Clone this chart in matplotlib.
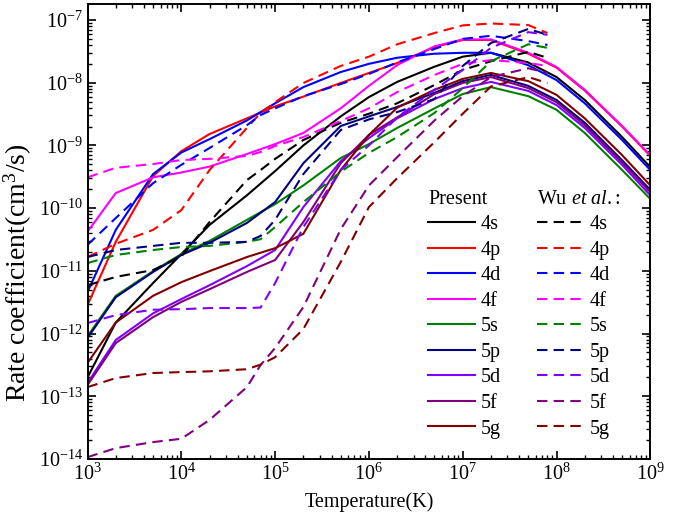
import numpy as np
import matplotlib
matplotlib.use('Agg')
import matplotlib.pyplot as plt
from matplotlib.ticker import LogLocator, NullFormatter

plt.rcParams['font.family'] = 'Liberation Serif'
plt.rcParams['mathtext.fontset'] = 'custom'
plt.rcParams['mathtext.rm'] = 'Liberation Serif'
plt.rcParams['mathtext.it'] = 'Liberation Serif:italic'
plt.rcParams['axes.unicode_minus'] = False

# temperatures (K)
T_present = [1e3, 2e3, 5e3, 1e4, 2e4, 5e4, 1e5, 2e5, 5e5, 1e6, 2e6, 5e6, 1e7, 2e7, 5e7, 1e8, 2e8, 5e8, 1e9]
T_wu = [1e3, 2e3, 5e3, 1e4, 2e4, 5e4, 7e4, 1e5, 2e5, 5e5, 1e6, 2e6, 5e6, 1e7, 2e7, 5e7, 8e7]

levels = ['4s', '4p', '4d', '4f', '5s', '5p', '5d', '5f', '5g']
colors = ['#000000', '#ff0000', '#0000ff', '#ff00ff', '#008000', '#000080', '#8000ff', '#800080', '#800000']

# present results (cm^3/s)
present_4s = [2.0e-13, 1.5e-12, 6.4e-12, 1.85e-11, 5.4e-11, 1.6e-10, 3.9e-10, 1.0e-9, 2.9e-9, 5.9e-9, 1.03e-8, 1.8e-8, 2.6e-8, 3.0e-8, 2.1e-8, 1.23e-8, 5.3e-9, 1.36e-9, 4.5e-10]
present_4p = [2.85e-12, 2.9e-11, 3.25e-10, 8.1e-10, 1.52e-9, 2.7e-9, 4.2e-9, 6.0e-9, 9.9e-9, 1.43e-8, 2.06e-8, 3.7e-8, 4.8e-8, 4.8e-8, 2.9e-8, 1.74e-8, 7.5e-9, 2.0e-9, 6.8e-10]
present_4d = [4.6e-12, 4.5e-11, 3.5e-10, 7.7e-10, 1.26e-9, 2.5e-9, 4.7e-9, 8.5e-9, 1.48e-8, 2.0e-8, 2.5e-8, 2.9e-8, 3.0e-8, 3.0e-8, 1.9e-8, 1.1e-8, 4.7e-9, 1.22e-9, 4.05e-10]
present_4f = [4.2e-11, 1.74e-10, 3.1e-10, 3.7e-10, 4.6e-10, 7.3e-10, 1.05e-9, 1.58e-9, 3.9e-9, 8.9e-9, 1.91e-8, 3.8e-8, 4.9e-8, 4.9e-8, 3.0e-8, 1.78e-8, 7.7e-9, 2.04e-9, 7.0e-10]
present_5s = [9.1e-13, 4.0e-12, 9.9e-12, 1.85e-11, 3.0e-11, 6.5e-11, 1.16e-10, 2.3e-10, 6.3e-10, 1.05e-9, 1.9e-9, 3.9e-9, 6.6e-9, 8.5e-9, 6.1e-9, 3.7e-9, 1.58e-9, 4.05e-10, 1.4e-10]
present_5p = [8.5e-13, 3.8e-12, 9.6e-12, 1.79e-11, 2.8e-11, 5.8e-11, 1.25e-10, 5.2e-10, 2.04e-9, 2.9e-9, 4.1e-9, 6.9e-9, 1.06e-8, 1.33e-8, 8.9e-9, 5.3e-9, 2.3e-9, 5.8e-10, 1.95e-10]
present_5d = [1.63e-13, 7.9e-13, 2.1e-12, 3.55e-12, 5.9e-12, 1.19e-11, 2.15e-11, 1.04e-10, 5.6e-10, 1.31e-9, 2.7e-9, 5.5e-9, 8.2e-9, 1.03e-8, 7.4e-9, 4.4e-9, 1.9e-9, 4.9e-10, 1.6e-10]
present_5f = [1.51e-13, 7.05e-13, 1.83e-12, 3.2e-12, 5.1e-12, 9.6e-12, 1.49e-11, 6.0e-11, 5.2e-10, 1.47e-9, 2.8e-9, 6.6e-9, 9.9e-9, 1.23e-8, 8.2e-9, 4.9e-9, 2.1e-9, 5.4e-10, 1.8e-10]
present_5g = [3.4e-13, 1.5e-12, 4.0e-12, 6.6e-12, 9.9e-12, 1.66e-11, 2.3e-11, 3.9e-11, 4.05e-10, 1.47e-9, 4.0e-9, 7.7e-9, 1.15e-8, 1.43e-8, 1.06e-8, 6.4e-9, 2.7e-9, 7.0e-10, 2.3e-10]

# Wu et al.
wu_4s = [5.9e-12, 8.0e-12, 1.03e-11, 1.7e-11, 6.0e-11, 2.8e-10, 4.05e-10, 6.1e-10, 1.22e-9, 2.3e-9, 3.2e-9, 4.7e-9, 9.2e-9, 1.6e-8, 2.2e-8, 3.1e-8, 2.5e-8]
wu_4p = [1.66e-11, 2.7e-11, 4.5e-11, 9.3e-11, 4.05e-10, 1.9e-9, 3.3e-9, 4.9e-9, 9.9e-9, 1.85e-8, 2.6e-8, 4.1e-8, 6.2e-8, 8.2e-8, 8.8e-8, 8.3e-8, 6.2e-8]
wu_4d = [2.6e-11, 6.95e-11, 2.5e-10, 4.9e-10, 9.1e-10, 2.1e-9, 3.05e-9, 3.9e-9, 6.1e-9, 9.5e-9, 1.38e-8, 2.1e-8, 3.45e-8, 5.0e-8, 5.6e-8, 4.6e-8, 4.0e-8]
wu_4f = [3.1e-10, 4.4e-10, 5.05e-10, 5.85e-10, 6.1e-10, 6.8e-10, 7.85e-10, 9.8e-10, 1.36e-9, 2.45e-9, 3.9e-9, 7.1e-9, 1.33e-8, 2.0e-8, 2.3e-8, 2.06e-8, 1.85e-8]
wu_5s = [1.33e-11, 1.79e-11, 2.15e-11, 2.4e-11, 2.5e-11, 2.9e-11, 3.2e-11, 5.0e-11, 1.25e-10, 3.8e-10, 7.6e-10, 1.36e-9, 3.3e-9, 8.2e-9, 2.2e-8, 4.1e-8, 3.6e-8]
wu_5p = [1.66e-11, 2.15e-11, 2.5e-11, 2.8e-11, 2.8e-11, 2.9e-11, 3.6e-11, 6.5e-11, 3.5e-10, 1.76e-9, 2.6e-9, 3.4e-9, 5.5e-9, 1.85e-8, 4.3e-8, 7.2e-8, 5.8e-8]
wu_5d = [1.47e-12, 1.97e-12, 2.4e-12, 2.45e-12, 2.55e-12, 2.55e-12, 2.6e-12, 6.4e-12, 5.0e-11, 4.05e-10, 1.0e-9, 2.8e-9, 7.7e-9, 1.6e-8, 3.6e-8, 6.4e-8, 5.8e-8]
wu_5f = [1.07e-14, 1.49e-14, 1.86e-14, 2.1e-14, 4.2e-14, 1.4e-13, 3.15e-13, 5.9e-13, 2.65e-12, 4.6e-11, 2.3e-10, 6.5e-10, 2.5e-9, 6.1e-9, 1.23e-8, 1.7e-8, 1.43e-8]
wu_5g = [1.4e-13, 1.95e-13, 2.35e-13, 2.43e-13, 2.5e-13, 2.7e-13, 3.2e-13, 4.2e-13, 1.18e-12, 1.38e-11, 1.04e-10, 3.0e-10, 1.13e-9, 3.2e-9, 8.7e-9, 1.23e-8, 9.9e-9]

present = [present_4s, present_4p, present_4d, present_4f, present_5s,
           present_5p, present_5d, present_5f, present_5g]
wu = [wu_4s, wu_4p, wu_4d, wu_4f, wu_5s, wu_5p, wu_5d, wu_5f, wu_5g]

fs = 14.5

fig = plt.figure(figsize=(6.86, 5.17), dpi=100)
ax = fig.add_axes([0.1276, 0.1122, 0.8204, 0.8801])

solid = []
for lab, col, vals in zip(levels, colors, present):
    l, = ax.plot(T_present, vals, color=col, lw=1.5, label=lab)
    solid.append(l)

dashed = []
for lab, col, vals in zip(levels, colors, wu):
    l, = ax.plot(T_wu, vals, color=col, lw=1.5, ls=(0, (5, 3)), label=lab)
    dashed.append(l)

ax.set_xscale('log')
ax.set_yscale('log')
ax.set_xlim(1e3, 1e9)
ax.set_ylim(1e-14, 1.8e-7)

ax.xaxis.set_major_locator(LogLocator(base=10, numticks=20))
ax.xaxis.set_minor_locator(LogLocator(base=10, subs=np.arange(2, 10), numticks=100))
ax.yaxis.set_major_locator(LogLocator(base=10, numticks=20))
ax.yaxis.set_minor_locator(LogLocator(base=10, subs=np.arange(2, 10), numticks=100))
ax.xaxis.set_minor_formatter(NullFormatter())
ax.yaxis.set_minor_formatter(NullFormatter())

ax.tick_params(which='both', direction='in', top=True, right=True, labelsize=fs)
ax.tick_params(which='major', length=6, width=1.2)
ax.tick_params(which='minor', length=3, width=1.0)
for sp in ax.spines.values():
    sp.set_linewidth(1.4)

ax.set_xlabel('Temperature(K)', fontsize=fs, labelpad=5)
ax.set_ylabel('Rate coefficient(cm$^3$/s)', fontsize=20)
ax.yaxis.set_label_coords(-0.095, 0.41)

leg_kw = dict(loc='upper left', frameon=False, handlelength=2.35, handletextpad=0.25,
              labelspacing=0.32, borderpad=0, borderaxespad=0, alignment='left',
              fontsize=fs, title_fontsize=fs)
leg1 = ax.legend(handles=solid, title='Present', bbox_to_anchor=(0.605, 0.592), **leg_kw)
ax.add_artist(leg1)
ax.legend(handles=dashed, title='Wu $\\mathit{et\\ al.}$:', bbox_to_anchor=(0.799, 0.592), **leg_kw)

fig.savefig('out.png', dpi=100)
